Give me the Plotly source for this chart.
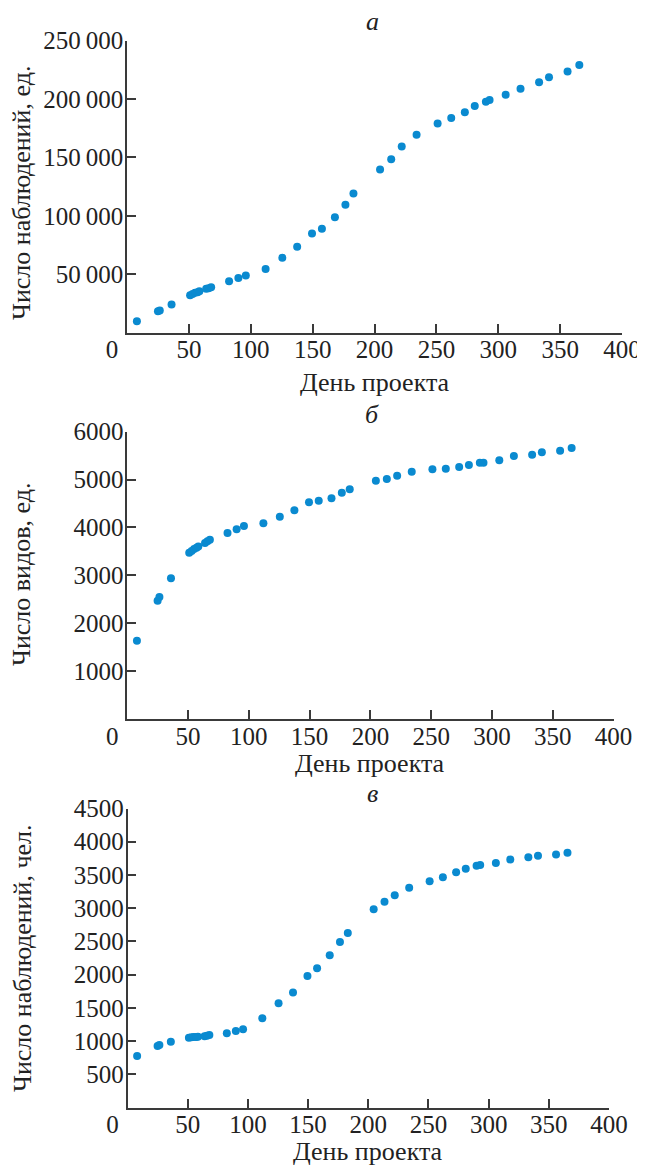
import plotly.graph_objects as go

# ---- data ----
days = [8, 25, 26.5, 36, 51, 53, 55, 57, 58.5, 64, 66, 68, 82.5, 90, 96, 112,
        125.5, 137.5, 149.5, 157.5, 168, 176.5, 183, 204.5, 213.5, 222, 234,
        251, 262, 273, 281, 290, 293, 306, 318, 333, 341, 356, 365.5]

observations = [9700, 18300, 18800, 24000, 32000, 33000, 34000, 34500, 35400,
                37400, 38000, 38800, 44000, 46800, 48800, 54300, 64000, 73400,
                84900, 88800, 98800, 109400, 119100, 139700, 148500, 159400,
                169400, 179100, 183700, 188800, 194000, 197700, 199100, 203700,
                208800, 214300, 218600, 223700, 229100]

species = [1634, 2470, 2550, 2937, 3472, 3507, 3549, 3577, 3605, 3675, 3710,
           3744, 3884, 3961, 4030, 4086, 4224, 4358, 4525, 4558, 4608, 4725,
           4796, 4976, 5011, 5080, 5164, 5214, 5227, 5262, 5304, 5352, 5352,
           5402, 5492, 5519, 5569, 5603, 5659]

observers = [776, 926, 941, 991, 1051, 1057, 1060, 1062, 1064, 1072, 1081, 1092,
             1117, 1152, 1178, 1343, 1569, 1729, 1980, 2096, 2292, 2492, 2628,
             2985, 3095, 3196, 3306, 3406, 3467, 3542, 3592, 3637, 3648, 3678,
             3732, 3768, 3788, 3808, 3833]

x_ticks = [0, 50, 100, 150, 200, 250, 300, 350, 400]
x_ticktext = ["0\u2003\u2009"] + [str(v) for v in x_ticks[1:]]

ya_ticks = [50000, 100000, 150000, 200000, 250000]
ya_text = ["50\u2009000", "100\u2009000", "150\u2009000", "200\u2009000", "250\u2009000"]
yb_ticks = [1000, 2000, 3000, 4000, 5000, 6000]
yc_ticks = [500, 1000, 1500, 2000, 2500, 3000, 3500, 4000, 4500]

panel_labels = ["а", "б", "в"]
y_titles = ["Число наблюдений, ед.", "Число видов, ед.", "Число наблюдений, чел."]
x_title = "День проекта"

# ---- styling ----
PAGE_W, PAGE_H = 645, 1165
OFF = 8                      # default body margin of the html page
W, H = PAGE_W - OFF, PAGE_H - OFF
FONT = "Liberation Serif"
AXC = "#3a3a3a"
DOT = "#0a8ad0"


def px(xp):
    return (xp - OFF) / W


def py(yp):
    return 1 - (yp - OFF) / H


fig = go.Figure()
series = [observations, species, observers]
for i, ys in enumerate(series):
    sfx = "" if i == 0 else str(i + 1)
    fig.add_trace(go.Scatter(x=days, y=ys, mode="markers",
                             marker=dict(size=8, color=DOT),
                             xaxis="x" + sfx, yaxis="y" + sfx,
                             showlegend=False))

x_domains = [[px(127), px(622)], [px(127.2), px(613.6)], [px(127.5), px(609)]]
y_domains = [[py(332.5), py(40.7)], [py(719), py(431.7)], [py(1107.5), py(808.5)]]
y_ranges = [[0, 250000], [0, 6000], [0, 4500]]
y_tv = [ya_ticks, yb_ticks, yc_ticks]
y_tt = [ya_text, [str(v) for v in yb_ticks], [str(v) for v in yc_ticks]]

common = dict(showline=True, linecolor=AXC, linewidth=1.6, ticks="inside",
              ticklen=9, tickwidth=1.5, tickcolor=AXC, showgrid=False,
              zeroline=False, automargin=False,
              tickfont=dict(family=FONT, size=25, color="#222"))

layout = dict(width=W, height=H, margin=dict(l=0, r=0, t=0, b=0, autoexpand=False),
              template="none",
              plot_bgcolor="white", paper_bgcolor="white", annotations=[])
for i in range(3):
    sfx = "" if i == 0 else str(i + 1)
    layout["xaxis" + sfx] = dict(domain=x_domains[i], range=[0, 400],
                                 anchor="y" + sfx, tickmode="array",
                                 tickvals=x_ticks, ticktext=x_ticktext,
                                 ticklabelstandoff=-6, **common)
    layout["yaxis" + sfx] = dict(domain=y_domains[i], range=y_ranges[i],
                                 anchor="x" + sfx, tickmode="array",
                                 tickvals=y_tv[i], ticktext=y_tt[i],
                                 ticklabelstandoff=-3, **common)

title_y = [21, 414, 793]
xt_y = [382, 763, 1151]
yt_c = [193, 575, 958]
for i in range(3):
    xc = (x_domains[i][0] + x_domains[i][1]) / 2
    layout["annotations"].append(dict(text="<i>" + panel_labels[i] + "</i>",
                                      xref="paper", yref="paper",
                                      x=px(372), y=py(title_y[i]), showarrow=False,
                                      font=dict(family=FONT, size=26, color="#222"),
                                      xanchor="center", yanchor="middle"))
    layout["annotations"].append(dict(text=x_title, xref="paper", yref="paper",
                                      x=xc, y=py(xt_y[i]), showarrow=False,
                                      font=dict(family=FONT, size=26, color="#222"),
                                      xanchor="center", yanchor="middle"))
    layout["annotations"].append(dict(text=y_titles[i], xref="paper", yref="paper",
                                      x=px(22), y=py(yt_c[i]), showarrow=False,
                                      textangle=-90,
                                      font=dict(family=FONT, size=26, color="#222"),
                                      xanchor="center", yanchor="middle"))

fig.update_layout(**layout)
fig.write_html("out.html")
